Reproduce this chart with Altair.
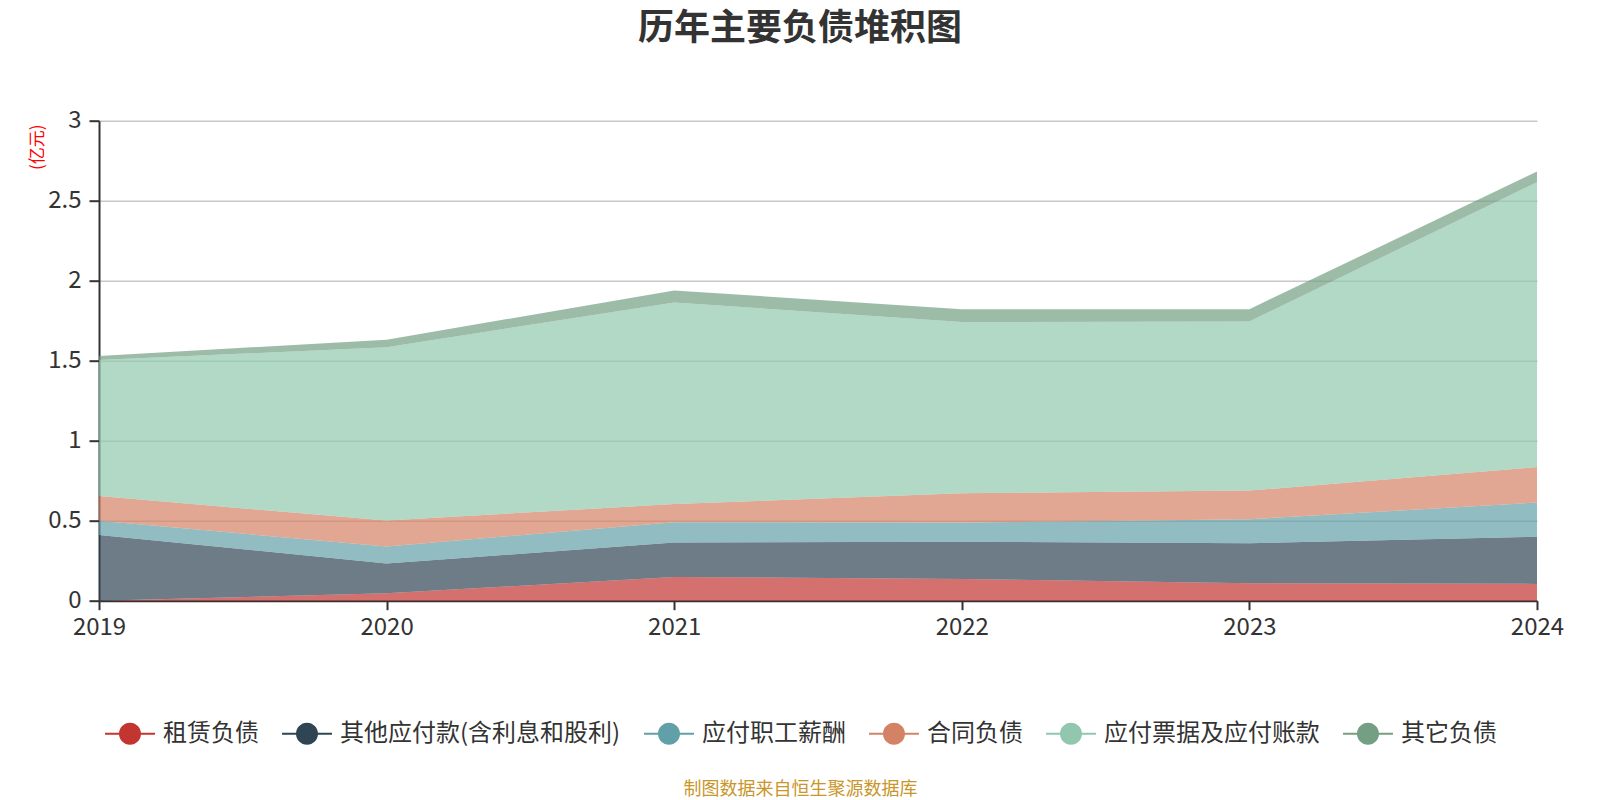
import altair as alt
import pandas as pd

years = [2019, 2020, 2021, 2022, 2023, 2024]
series_names = ["租赁负债", "其他应付款(含利息和股利)", "应付职工薪酬", "合同负债", "应付票据及应付账款", "其它负债"]
rent = [0.0, 0.046, 0.148, 0.136, 0.109, 0.105]
other_payables = [0.41, 0.187, 0.215, 0.233, 0.25, 0.295]
payroll = [0.09, 0.105, 0.128, 0.119, 0.15, 0.213]
contract = [0.154, 0.163, 0.113, 0.183, 0.179, 0.222]
accounts_payable = [0.85, 1.083, 1.26, 1.071, 1.057, 1.781]
other_liab = [0.026, 0.047, 0.075, 0.079, 0.077, 0.066]
colors = ["#c23531", "#2f4554", "#61a0a8", "#d48265", "#91c7ae", "#749f83"]
y_ticks = [0, 0.5, 1, 1.5, 2, 2.5, 3]

series_values = [rent, other_payables, payroll, contract, accounts_payable, other_liab]
rows = []
for i, (name, vals) in enumerate(zip(series_names, series_values)):
    for y, v in zip(years, vals):
        rows.append({"year": y, "series": name, "value": v, "idx": i})
df = pd.DataFrame(rows)

FONT = "Noto Sans CJK SC"
legend_symbol = ("M-2.27,-0.09L2.27,-0.09L2.27,0.09L-2.27,0.09Z "
                 "M1,0A1,1,0,1,1,-1,0A1,1,0,1,1,1,0Z")

chart = alt.Chart(df).mark_area(opacity=0.7).encode(
    x=alt.X("year:Q",
            scale=alt.Scale(domain=[years[0], years[-1]], nice=False, zero=False),
            axis=alt.Axis(values=years, format="d", grid=False, labelFlush=False,
                          labelFontSize=24, labelColor="#333", labelFont=FONT,
                          labelPadding=6, tickSize=9, tickWidth=2, tickColor="#333",
                          domainColor="#333", domainWidth=2,
                          title="制图数据来自恒生聚源数据库", titleColor="#c9962a",
                          titleFontSize=18, titleFont=FONT, titleFontWeight="normal",
                          titleX=701, titleY=189, titleAlign="center",
                          titleBaseline="middle", titleAnchor="middle")),
    y=alt.Y("value:Q", stack="zero",
            scale=alt.Scale(domain=[0, 3], nice=False),
            axis=alt.Axis(values=y_ticks, format="~g",
                          labelFontSize=24, labelColor="#333", labelFont=FONT,
                          labelPadding=8, tickSize=10, tickWidth=2, tickColor="#333",
                          domainColor="#333", domainWidth=2,
                          gridColor="#c8c8c8", gridWidth=1.5,
                          title="(亿元)", titleColor="#ff0000", titleFontSize=17,
                          titleFont=FONT, titleFontWeight="normal",
                          titleAngle=270, titleX=-62, titleY=26,
                          titleAlign="center", titleBaseline="middle")),
    color=alt.Color("series:N",
                    scale=alt.Scale(domain=series_names, range=colors),
                    legend=alt.Legend(orient="none", direction="horizontal",
                                      legendX=19, legendY=601, title=None,
                                      symbolType=legend_symbol, symbolSize=484,
                                      symbolStrokeWidth=0, symbolOpacity=1,
                                      labelFontSize=24, labelColor="#333",
                                      labelFont=FONT, labelOffset=21,
                                      columnPadding=23, padding=0,
                                      labelLimit=400)),
    order=alt.Order("idx:Q"),
).properties(
    width=1438,
    height=480,
    autosize=alt.AutoSizeParams(type="none"),
    padding={"left": 91, "top": 112.7, "right": 55, "bottom": 200},
    title=alt.TitleParams(text="历年主要负债堆积图", fontSize=36, fontWeight="bold",
                          color="#333", font=FONT, anchor="middle", frame="group",
                          dx=-18, offset=61),
).configure_view(stroke=None)

chart.save("out.html", embed_options={"renderer": "svg", "actions": False})
